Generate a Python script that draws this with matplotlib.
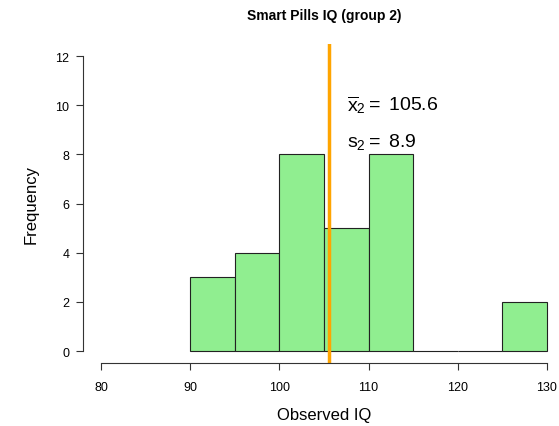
import matplotlib
matplotlib.use("Agg")
import matplotlib.pyplot as plt

plt.rcParams["font.family"] = ["Liberation Sans", "DejaVu Sans"]
plt.rcParams["mathtext.fontset"] = "custom"
plt.rcParams["mathtext.rm"] = "Liberation Sans"
plt.rcParams["mathtext.it"] = "Liberation Sans"

bin_left = [90, 95, 100, 105, 110, 115, 120, 125]
counts = [3, 4, 8, 5, 8, 0, 0, 2]
bin_width = 5
mean_iq = 105.6
sd_iq = 8.9
x_ticks = [80, 90, 100, 110, 120, 130]
y_ticks = [0, 2, 4, 6, 8, 10, 12]


def draw_hist():
    fig = plt.figure(figsize=(5.59, 4.27), dpi=100)
    ax = fig.add_axes([0.1488, 0.148, 0.8615, 0.7461])
    ax.set_xlim(78, 132)
    ax.set_ylim(-0.48, 12.48)

    ax.bar(bin_left, counts, width=bin_width, align="edge",
           color="#90EE90", edgecolor="#222222", linewidth=0.8)
    ax.axvline(mean_iq, color="#FFA500", linewidth=2.5)

    # R style detached axes
    for s in ["top", "right"]:
        ax.spines[s].set_visible(False)
    ax.spines["left"].set_bounds(0, 12)
    ax.spines["bottom"].set_bounds(80, 130)
    ax.spines["left"].set_color("#333333")
    ax.spines["bottom"].set_color("#333333")
    ax.set_xticks(x_ticks)
    ax.set_yticks(y_ticks)
    ax.tick_params(direction="out", length=5, width=0.8, labelsize=9,
                   colors="#333333", labelcolor="black")
    ax.tick_params(axis="x", pad=8)
    ax.tick_params(axis="y", pad=5)

    ax.set_xlabel("Observed IQ", fontsize=12, labelpad=10)
    ax.set_ylabel("Frequency", fontsize=12, labelpad=12)
    fig.text(0.58, 0.962, "Smart Pills IQ (group 2)", ha="center", va="center",
             fontsize=10, fontweight="bold")

    ax.text(107.6, 10.05, r"$\overline{\mathrm{x}}_2 =$ " + f"{mean_iq}",
            fontsize=14, ha="left", va="center")
    ax.text(107.6, 8.55, r"$\mathrm{s}_2 =$ " + f"{sd_iq}",
            fontsize=14, ha="left", va="center")

    fig.savefig("out.png", dpi=100)


if __name__ == "__main__":
    draw_hist()
